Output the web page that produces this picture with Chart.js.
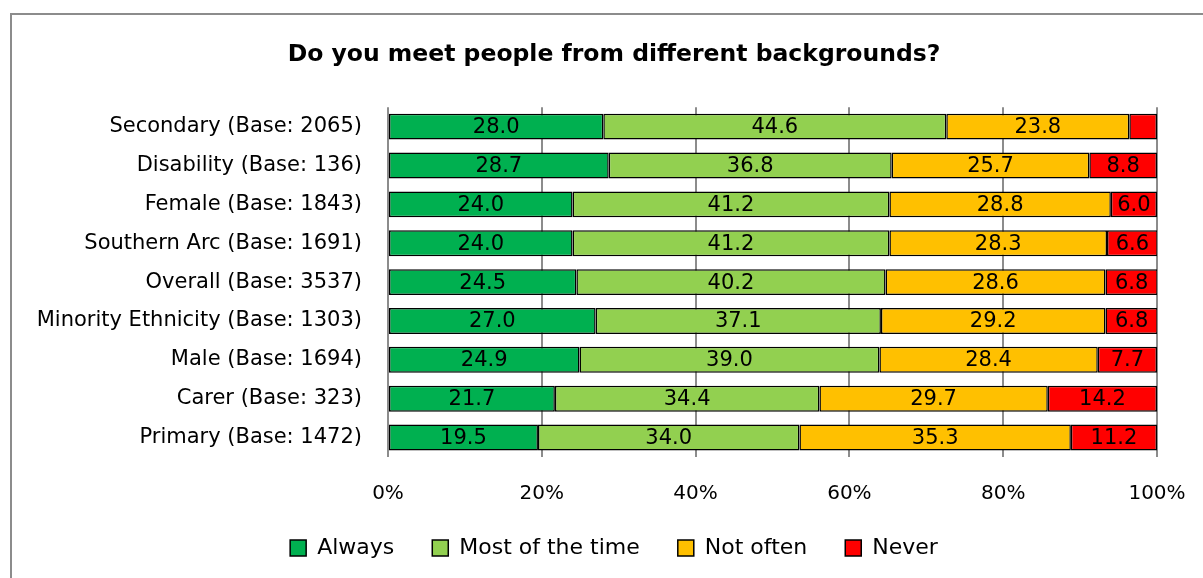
<!DOCTYPE html>
<html>
<head>
<meta charset="utf-8">
<script src="https://cdn.jsdelivr.net/npm/chart.js@4/dist/chart.umd.min.js"></script>
<style>
  html, body { margin: 0; padding: 0; background: #fff; }
  #wrap { position: relative; width: 1203px; height: 578px; }
</style>
</head>
<body>
<div id="wrap"><canvas id="c"></canvas></div>
<script>
const categories = [
  "Secondary (Base: 2065)",
  "Disability (Base: 136)",
  "Female (Base: 1843)",
  "Southern Arc (Base: 1691)",
  "Overall (Base: 3537)",
  "Minority Ethnicity (Base: 1303)",
  "Male (Base: 1694)",
  "Carer (Base: 323)",
  "Primary (Base: 1472)"
];
const always     = [28.0, 28.7, 24.0, 24.0, 24.5, 27.0, 24.9, 21.7, 19.5];
const mostOfTime = [44.6, 36.8, 41.2, 41.2, 40.2, 37.1, 39.0, 34.4, 34.0];
const notOften   = [23.8, 25.7, 28.8, 28.3, 28.6, 29.2, 28.4, 29.7, 35.3];
const never      = [3.6, 8.8, 6.0, 6.6, 6.8, 6.8, 7.7, 14.2, 11.2];
const seriesNames = ["Always", "Most of the time", "Not often", "Never"];
const xTicks = [0, 20, 40, 60, 80, 100];
const titleText = "Do you meet people from different backgrounds?";

const FONT = "'DejaVu Sans', sans-serif";
const colors = ["#00B050", "#92D050", "#FFC000", "#FF0000"];
const seriesData = [always, mostOfTime, notOften, never];

const bgPlugin = {
  id: 'bgFrame',
  beforeDraw(chart) {
    const ctx = chart.ctx;
    ctx.save();
    ctx.fillStyle = '#ffffff';
    ctx.fillRect(0, 0, chart.width, chart.height);
    ctx.strokeStyle = '#8c8c8c';
    ctx.lineWidth = 2;
    ctx.strokeRect(11, 14, chart.width + 20, chart.height + 20);
    ctx.restore();
  }
};

const labelPlugin = {
  id: 'segLabels',
  afterDatasetsDraw(chart) {
    const ctx = chart.ctx;
    ctx.save();
    ctx.font = "21px " + FONT;
    ctx.fillStyle = '#000';
    ctx.textAlign = 'center';
    ctx.textBaseline = 'middle';
    chart.data.datasets.forEach((ds, di) => {
      const meta = chart.getDatasetMeta(di);
      meta.data.forEach((bar, i) => {
        const v = ds.data[i];
        const txt = v.toFixed(1);
        const w = Math.abs(bar.x - bar.base);
        if (ctx.measureText(txt).width > w - 2) return;
        ctx.fillText(txt, (bar.x + bar.base) / 2, bar.y + 1);
      });
    });
    ctx.restore();
  }
};

new Chart(document.getElementById('c'), {
  type: 'bar',
  data: {
    labels: categories,
    datasets: seriesNames.map((name, k) => ({
      label: name,
      data: seriesData[k],
      backgroundColor: colors[k],
      borderColor: '#000',
      borderWidth: 1.5,
      borderSkipped: false,
      barPercentage: 0.667,
      categoryPercentage: 1.0
    }))
  },
  options: {
    indexAxis: 'y',
    responsive: true,
    maintainAspectRatio: false,
    animation: false,
    devicePixelRatio: 1,
    layout: { padding: { left: 25, right: 0, top: 0, bottom: 9 } },
    scales: {
      x: {
        stacked: true,
        min: 0,
        max: 100,
        afterBuildTicks(scale) { scale.ticks = xTicks.map(v => ({ value: v })); },
        afterFit(scale) { scale.height = 42; },
        ticks: {
          callback: v => v + '%',
          font: { family: FONT, size: 20 },
          color: '#000',
          padding: 0,
          maxRotation: 0
        },
        grid: {
          color: '#8c8c8c',
          lineWidth: 2,
          drawTicks: true,
          tickLength: 25,
          tickColor: 'rgba(0,0,0,0)'
        },
        border: { display: false }
      },
      y: {
        stacked: true,
        afterFit(scale) { scale.width = 363; },
        ticks: {
          font: { family: FONT, size: 21 },
          color: '#000',
          padding: 26,
          autoSkip: false
        },
        grid: { display: false, drawTicks: false },
        border: { display: false }
      },
      yRight: {
        type: 'category',
        position: 'right',
        afterFit(scale) { scale.width = 46; },
        ticks: { display: false },
        grid: { display: false, drawTicks: false },
        border: { display: false }
      }
    },
    plugins: {
      title: {
        display: true,
        text: titleText,
        color: '#000',
        font: { family: FONT, size: 23.5, weight: 'bold' },
        padding: { top: 41, bottom: 38 }
      },
      legend: {
        position: 'bottom',
        labels: {
          color: '#000',
          font: { family: FONT, size: 22 },
          boxWidth: 16,
          boxHeight: 16,
          padding: 38
        }
      },
      tooltip: { enabled: false }
    }
  },
  plugins: [bgPlugin, labelPlugin]
});
</script>
</body>
</html>
